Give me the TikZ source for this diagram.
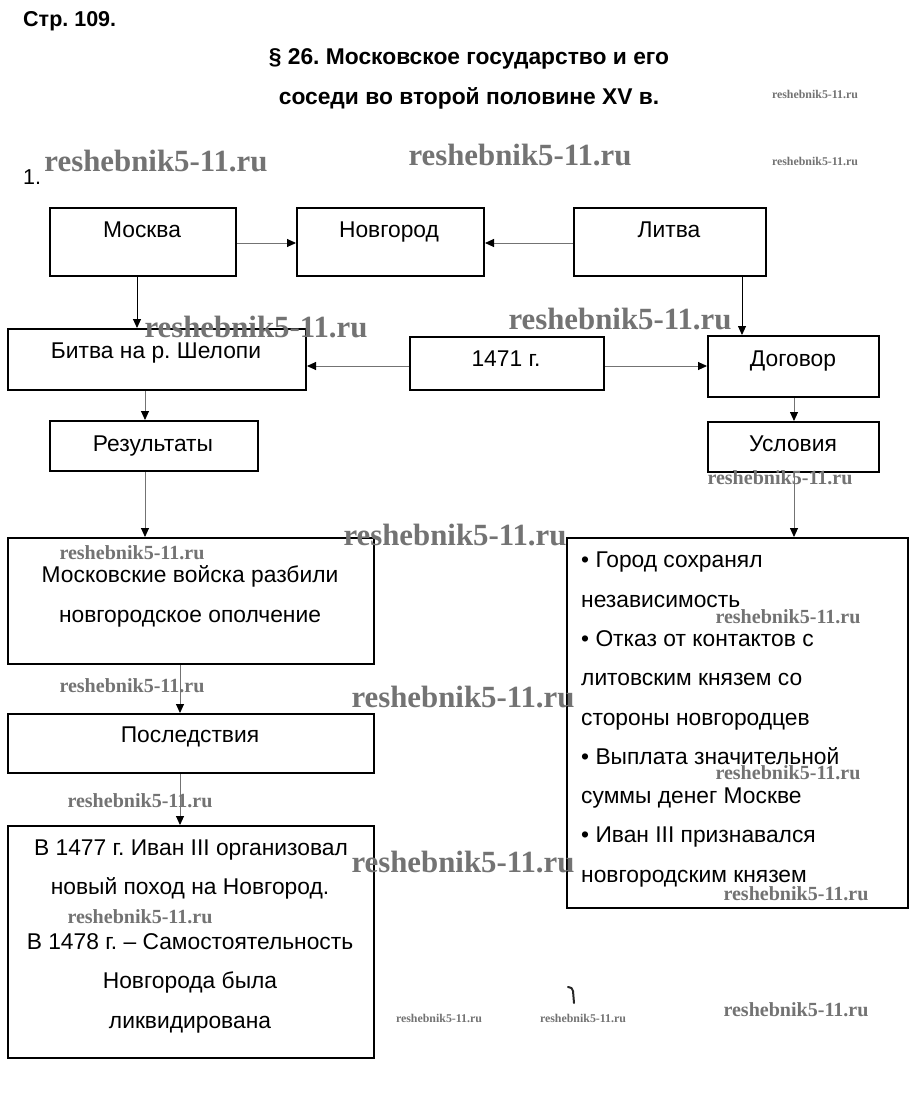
\documentclass[tikz,border=0pt]{standalone}
\usepackage{fontspec}
\usepackage{graphicx}
\setmainfont{Liberation Sans}
\newfontfamily\wmfont{Liberation Serif}
\usetikzlibrary{arrows.meta}
\frenchspacing
\tikzset{
  box/.style={draw=black, line width=2pt, anchor=north west, inner sep=0pt},
  txt/.style={anchor=base, inner sep=0pt, font=\fontsize{22.8pt}{27pt}\selectfont},
  ltxt/.style={anchor=base west, inner sep=0pt, font=\fontsize{22.8pt}{27pt}\selectfont},
  ttl/.style={anchor=base, inner sep=0pt, font=\fontsize{22.8pt}{27pt}\selectfont\bfseries},
  conn/.style={draw=black!55, line width=0.9pt, -{Triangle[length=9pt,width=8pt,color=black]}},
  wm/.style={inner sep=0pt, text=black!55, font=\wmfont\bfseries},
}
\newcommand{\wmL}{\resizebox{223pt}{!}{reshebnik5-11.ru}}
\newcommand{\wmM}{\resizebox{145pt}{!}{reshebnik5-11.ru}}
\newcommand{\wmS}{\resizebox{86pt}{!}{reshebnik5-11.ru}}
\begin{document}
\begin{tikzpicture}[x=1pt,y=-1pt]
\path[use as bounding box, fill=white] (0,0) rectangle (918,1102);
% titles
\node[anchor=base west, inner sep=0pt, font=\fontsize{21.5pt}{25pt}\selectfont\bfseries] (page) at (23,27) {Стр. 109.};
\node[ttl] (title1) at (469,65) {§ 26. Московское государство и его};
\node[ttl] (title2) at (469,105) {соседи во второй половине XV в.};
\node[anchor=base west, inner sep=0pt, font=\fontsize{21.5pt}{25pt}\selectfont] (num) at (23,185) {1.};
% boxes
\node[box, minimum width=186pt, minimum height=68pt] (moskva) at (49,207) {};
\node[box, minimum width=187pt, minimum height=68pt] (novgorod) at (296,207) {};
\node[box, minimum width=192pt, minimum height=68pt] (litva) at (573,207) {};
\node[box, minimum width=298pt, minimum height=61pt] (bitva) at (7,328) {};
\node[box, minimum width=194pt, minimum height=53pt] (y1471) at (409,336) {};
\node[box, minimum width=171pt, minimum height=61pt] (dogovor) at (707,335) {};
\node[box, minimum width=208pt, minimum height=50pt] (rezult) at (49,420) {};
\node[box, minimum width=171pt, minimum height=50pt] (uslov) at (707,421) {};
\node[box, minimum width=366pt, minimum height=126pt] (vojska) at (7,537) {};
\node[box, minimum width=341pt, minimum height=370pt] (cond) at (566,537) {};
\node[box, minimum width=366pt, minimum height=59pt] (posl) at (7,713) {};
\node[box, minimum width=366pt, minimum height=232pt] (itog) at (7,825) {};
% box texts
\node[txt] (tmoskva) at (142,237) {Москва};
\node[txt] (tnovgorod) at (389,237) {Новгород};
\node[txt] (tlitva) at (669,237) {Литва};
\node[txt] (tbitva) at (156,358) {Битва на р. Шелопи};
\node[txt] (t1471) at (506,366) {1471 г.};
\node[txt] (tdogovor) at (793,366) {Договор};
\node[txt] (trezult) at (153,451) {Результаты};
\node[txt] (tuslov) at (793,451) {Условия};
\node[txt] (tv1) at (190,582) {Московские войска разбили};
\node[txt] (tv2) at (190,622) {новгородское ополчение};
\node[txt] (tposl) at (190,742) {Последствия};
\node[ltxt] (c1) at (581,567) {• Город сохранял};
\node[ltxt] (c2) at (581,607) {независимость};
\node[ltxt] (c3) at (581,646) {• Отказ от контактов с};
\node[ltxt] (c4) at (581,685) {литовским князем со};
\node[ltxt] (c5) at (581,725) {стороны новгородцев};
\node[ltxt] (c6) at (581,764) {• Выплата значительной};
\node[ltxt] (c7) at (581,803) {суммы денег Москве};
\node[ltxt] (c8) at (581,842) {• Иван III признавался};
\node[ltxt] (c9) at (581,882) {новгородским князем};
\node[txt] (i1) at (191,855) {В 1477 г. Иван III организовал};
\node[txt] (i2) at (190,894) {новый поход на Новгород.};
\node[txt] (i3) at (190,949) {В 1478 г. – Самостоятельность};
\node[txt] (i4) at (190,988) {Новгорода была};
\node[txt] (i5) at (190,1028) {ликвидирована};
% connectors
\draw[conn] (moskva.east |- 0,243) -- (novgorod.west |- 0,243);
\draw[conn] (litva.west |- 0,243) -- (novgorod.east |- 0,243);
\draw[conn, draw=black] (moskva.south -| 137,0) -- (bitva.north -| 137,0);
\draw[conn, draw=black] (litva.south -| 742,0) -- (dogovor.north -| 742,0);
\draw[conn] (y1471.west |- 0,366) -- (bitva.east |- 0,366);
\draw[conn] (y1471.east |- 0,366) -- (dogovor.west |- 0,366);
\draw[conn] (bitva.south -| 145,0) -- (rezult.north -| 145,0);
\draw[conn] (dogovor.south -| 794,0) -- (uslov.north -| 794,0);
\draw[conn] (rezult.south -| 145,0) -- (vojska.north -| 145,0);
\draw[conn] (uslov.south -| 794,0) -- (cond.north -| 794,0);
\draw[conn] (vojska.south -| 180,0) -- (posl.north -| 180,0);
\draw[conn] (posl.south -| 180,0) -- (itog.north -| 180,0);
% watermarks
\node[wm] (w1) at (156,161) {\wmL};
\node[wm] (w2) at (520,155) {\wmL};
\node[wm] (w3) at (256,327) {\wmL};
\node[wm] (w4) at (620,319) {\wmL};
\node[wm] (w5) at (455,535) {\wmL};
\node[wm] (w6) at (463,697) {\wmL};
\node[wm] (w7) at (463,862) {\wmL};
\node[wm] (w8) at (780,478) {\wmM};
\node[wm] (w9) at (132,553) {\wmM};
\node[wm] (w10) at (132,686) {\wmM};
\node[wm] (w11) at (788,617) {\wmM};
\node[wm] (w12) at (788,773) {\wmM};
\node[wm] (w13) at (140,801) {\wmM};
\node[wm] (w14) at (140,917) {\wmM};
\node[wm] (w15) at (796,894) {\wmM};
\node[wm] (w16) at (796,1010) {\wmM};
\node[wm] (w17) at (815,94) {\wmS};
\node[wm] (w18) at (815,161) {\wmS};
\node[wm] (w19) at (439,1018) {\wmS};
\node[wm] (w20) at (583,1018) {\wmS};
% stray mark
\draw[line width=2pt, black!85, line cap=round] (568,987) .. controls (572,988) .. (573,991) -- (574,1003);
\end{tikzpicture}
\end{document}
